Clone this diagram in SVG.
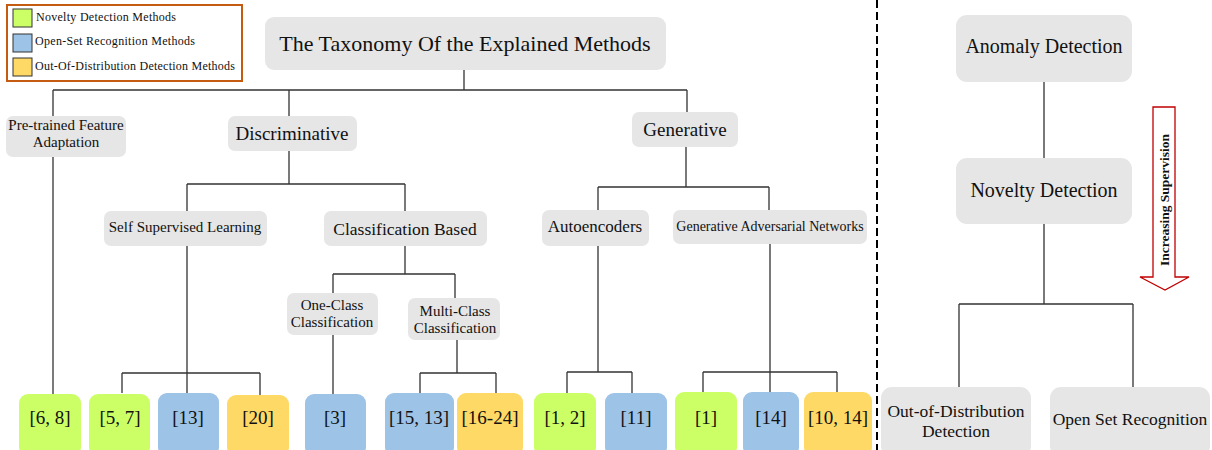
<svg xmlns="http://www.w3.org/2000/svg" width="1212" height="450" viewBox="0 0 1212 450">
<style>
text{font-family:"Liberation Serif","Times New Roman",serif;fill:#111}
.n{fill:#e6e6e6}
.g{fill:#ccff66}
.b{fill:#9dc3e6}
.y{fill:#ffd966}
.c{fill:none;stroke:#333;stroke-width:1.3}
.m{text-anchor:middle}
.lab{font-size:19px;text-anchor:middle}
.sw{stroke:#333;stroke-width:1}
</style>
<rect width="1212" height="450" fill="#fff"/>
<g id="legend">
<rect x="7" y="5" width="235" height="76" fill="#fff" stroke="#c55a11" stroke-width="2"/>
<rect class="g sw" x="13" y="9" width="19" height="18"/>
<rect class="b sw" x="13" y="34" width="19" height="18"/>
<rect class="y sw" x="13" y="58" width="19" height="18"/>
<text x="36" y="21" font-size="12" textLength="140">Novelty Detection Methods</text>
<text x="35" y="45" font-size="12" textLength="160">Open-Set Recognition Methods</text>
<text x="35" y="70" font-size="12" textLength="200">Out-Of-Distribution Detection Methods</text>
</g>
<g id="connectors">
<path class="c" d="M464 70V90M53 90H687M53 90V116M289 90V116M687 90V112"/>
<path class="c" d="M289 151V184M187 184H405M187 184V211M405 184V211"/>
<path class="c" d="M405 246V274M333 274H455M333 274V293M455 274V298"/>
<path class="c" d="M686 147V187M598 187H769M598 187V210M769 187V210"/>
<path class="c" d="M53 157V394"/>
<path class="c" d="M187 246V373M122 373H260M122 373V393M187 373V393M260 373V395"/>
<path class="c" d="M333 335V394"/>
<path class="c" d="M457 340V373M420 373H496M420 373V393M496 373V393"/>
<path class="c" d="M598 246V372M567 372H632M567 372V393M632 372V393"/>
<path class="c" d="M770 244V372M703 372H837M703 372V392M770 372V392M837 372V392"/>
<path class="c" d="M1044 82V158M1044 224V304M959 304H1133M959 304V387M1133 304V387"/>
</g>
<line x1="877" y1="0" x2="877" y2="450" stroke="#000" stroke-width="2" stroke-dasharray="8 4"/>
<g id="title"><rect class="n" x="265" y="17" width="401" height="53" rx="9"/><text class="m" x="465" y="51" font-size="22">The Taxonomy Of the Explained Methods</text></g>
<g id="pretrained"><rect class="n" x="6" y="116" width="120" height="41" rx="7"/><text class="m" x="66" y="130" font-size="15">Pre-trained Feature</text><text class="m" x="66" y="147" font-size="15">Adaptation</text></g>
<g id="discriminative"><rect class="n" x="228" y="116" width="129" height="35" rx="7"/><text class="m" x="292" y="140" font-size="19">Discriminative</text></g>
<g id="generative"><rect class="n" x="632" y="112" width="106" height="35" rx="7"/><text class="m" x="685" y="136" font-size="19">Generative</text></g>
<g id="ssl"><rect class="n" x="104" y="211" width="163" height="35" rx="7"/><text class="m" x="185" y="232" font-size="15">Self Supervised Learning</text></g>
<g id="classbased"><rect class="n" x="324" y="211" width="163" height="35" rx="7"/><text class="m" x="405" y="235" font-size="17.5">Classification Based</text></g>
<g id="oneclass"><rect class="n" x="287" y="293" width="91" height="42" rx="7"/><text class="m" x="332" y="310" font-size="15">One-Class</text><text class="m" x="332" y="327" font-size="15">Classification</text></g>
<g id="multiclass"><rect class="n" x="408" y="298" width="92" height="42" rx="7"/><text class="m" x="455" y="316" font-size="15">Multi-Class</text><text class="m" x="455" y="333" font-size="15">Classification</text></g>
<g id="autoencoders"><rect class="n" x="542" y="210" width="107" height="36" rx="7"/><text class="m" x="595" y="232" font-size="17">Autoencoders</text></g>
<g id="gan"><rect class="n" x="673" y="210" width="194" height="34" rx="7"/><text class="m" x="770" y="231" font-size="14">Generative Adversarial Networks</text></g>
<g id="n68"><rect class="g" x="19" y="394" width="62" height="62" rx="9"/><text class="lab" x="50" y="424">[6, 8]</text></g>
<g id="n57"><rect class="g" x="89" y="394" width="61" height="62" rx="9"/><text class="lab" x="120" y="424">[5, 7]</text></g>
<g id="n13"><rect class="b" x="158" y="393" width="61" height="63" rx="9"/><text class="lab" x="188" y="424">[13]</text></g>
<g id="n20"><rect class="y" x="227" y="395" width="62" height="61" rx="9"/><text class="lab" x="258" y="424">[20]</text></g>
<g id="n3"><rect class="b" x="305" y="394" width="61" height="62" rx="9"/><text class="lab" x="335" y="424">[3]</text></g>
<g id="n1513"><rect class="b" x="385" y="393" width="69" height="63" rx="9"/><text class="lab" x="419" y="424">[15, 13]</text></g>
<g id="n1624"><rect class="y" x="457" y="393" width="66" height="63" rx="9"/><text class="lab" x="490" y="424">[16-24]</text></g>
<g id="n12"><rect class="g" x="534" y="393" width="62" height="63" rx="9"/><text class="lab" x="565" y="424">[1, 2]</text></g>
<g id="n11"><rect class="b" x="605" y="393" width="62" height="63" rx="9"/><text class="lab" x="636" y="424">[11]</text></g>
<g id="n1"><rect class="g" x="675" y="392" width="62" height="64" rx="9"/><text class="lab" x="706" y="424">[1]</text></g>
<g id="n14"><rect class="b" x="743" y="392" width="56" height="64" rx="9"/><text class="lab" x="771" y="424">[14]</text></g>
<g id="n1014"><rect class="y" x="804" y="392" width="68" height="64" rx="9"/><text class="lab" x="838" y="424">[10, 14]</text></g>
<g id="anomaly"><rect class="n" x="956" y="15" width="176" height="67" rx="11"/><text class="m" x="1044" y="53" font-size="20">Anomaly Detection</text></g>
<g id="novelty"><rect class="n" x="956" y="158" width="176" height="66" rx="11"/><text class="m" x="1044" y="197" font-size="20">Novelty Detection</text></g>
<g id="ood"><rect class="n" x="881" y="387" width="150" height="70" rx="11"/><text class="m" x="956" y="417" font-size="17.5">Out-of-Distribution</text><text class="m" x="956" y="437" font-size="17.5">Detection</text></g>
<g id="osr"><rect class="n" x="1050" y="387" width="160" height="70" rx="11"/><text class="m" x="1130" y="425" font-size="17.5">Open Set Recognition</text></g>
<g id="arrow"><path d="M1153 107H1175V277H1189L1165 290L1140 277H1153Z" fill="#fff" stroke="#c00000" stroke-width="1.3"/><text class="m" transform="translate(1169 200) rotate(-90)" font-size="13.5" font-weight="bold">Increasing Supervision</text></g>
</svg>
